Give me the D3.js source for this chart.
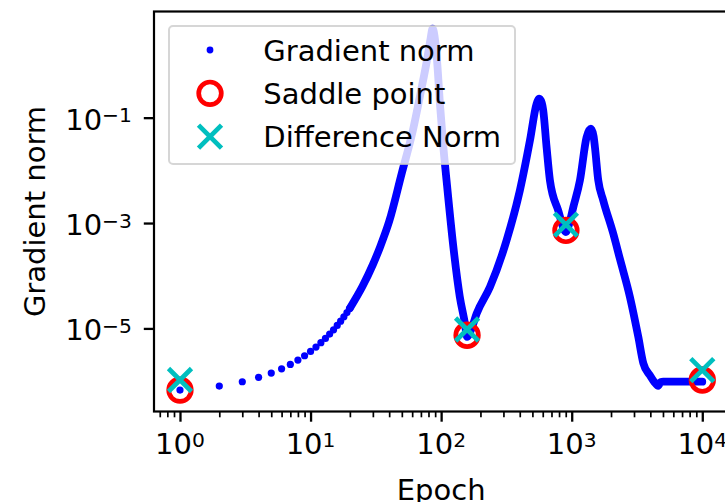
<!DOCTYPE html>
<html>
<head>
<meta charset="utf-8">
<script src="https://cdn.jsdelivr.net/npm/d3@7"></script>
<style>
  html, body { margin: 0; padding: 0; background: #fff; }
  svg { display: block; font-family: "DejaVu Sans", sans-serif; }
</style>
</head>
<body>
<svg id="chart" width="725" height="502"></svg>
<script>
// ---- data ----
// individually visible early dots (epoch, gradient norm)
const dotEpochs = [1, 2, 3, 4, 5, 6, 7, 8, 9, 10, 11, 12, 13, 14, 15, 16, 17, 18, 19, 20];
const dotValues = [6.76e-7, 8.05e-7, 9.73e-7, 1.18e-6, 1.42e-6, 1.71e-6, 2.07e-6, 2.51e-6, 3.03e-6, 3.66e-6,
                   4.43e-6, 5.35e-6, 6.46e-6, 7.80e-6, 9.42e-6, 1.14e-5, 1.37e-5, 1.66e-5, 2.00e-5, 2.42e-5];
// dense part of the gradient-norm trace (dots merge into a thick band)
const curveEpochs = [20, 25, 30, 34, 40, 50, 60, 70, 78, 83, 86, 89, 93, 98, 104, 110, 124, 139, 152, 158,
                     170, 187, 237, 317, 401, 479, 538, 564, 590, 605, 642, 681, 788, 903,
                     960, 1028, 1156, 1300, 1403, 1470, 1506, 1597, 1744, 2080, 2339, 2790, 3235, 3535,
                     3970, 4300, 4600, 4800, 5020, 10000];
const curveLog10 = [-4.616, -4.20, -3.79, -3.46, -2.97, -2.05, -1.30, -0.50, 0.10, 0.50, 0.69, 0.55, 0.09, -0.75, -1.56, -2.19, -3.45, -4.40, -4.90, -5.16,
                    -5.02, -4.72, -4.21, -3.33, -2.38, -1.43, -0.74, -0.64, -0.72, -0.86, -1.56, -2.19, -2.76, -3.17,
                    -3.00, -2.70, -2.19, -1.37, -1.21, -1.35, -1.56, -2.19, -2.57, -3.20, -3.68, -4.40, -5.16, -5.66,
                    -5.89, -6.02, -6.09, -6.02, -6.01, -6.01];
const saddleEpochs = [1, 158, 903, 10000];
const saddleValues = [6.76e-7, 7.41e-6, 7.24e-4, 1.05e-6];
const diffEpochs = [1, 158, 903, 10000];
const diffValues = [1.05e-6, 9.55e-6, 9.33e-4, 1.62e-6];
const xMajorTicks = [1, 10, 100, 1000, 10000];
const xMajorExp = ["0", "1", "2", "3", "4"];
const yMajorTicks = [1e-1, 1e-3, 1e-5];
const yMajorExp = ["\u22121", "\u22123", "\u22125"];
const legendLabels = ["Gradient norm", "Saddle point", "Difference Norm"];
const xLabel = "Epoch";
const yLabel = "Gradient norm";

// ---- layout ----
const L = 154, R = 728.4, T = 11.5, B = 411.5;
const FS = 29, SUP = 20.3;
const BLUE = "#0000ff", RED = "#ff0000", CYAN = "#00bfbf";

const svg = d3.select("#chart");
const x = d3.scaleLog().domain([Math.pow(10, -0.199), Math.pow(10, 4.2)]).range([L, R]);
const y = d3.scaleLog().domain([Math.pow(10, -6.577), Math.pow(10, 1.015)]).range([B, T]);

// clip
svg.append("defs").append("clipPath").attr("id", "clip")
  .append("rect").attr("x", L).attr("y", T).attr("width", R - L).attr("height", B - T);

const plot = svg.append("g").attr("clip-path", "url(#clip)");

// gradient norm: dense band
const curvePts = curveEpochs.map((e, i) => [e, Math.pow(10, curveLog10[i])]);
const line = d3.line().x(d => x(d[0])).y(d => y(d[1])).curve(d3.curveMonotoneX);
plot.append("path").datum(curvePts)
  .attr("d", line).attr("fill", "none").attr("stroke", BLUE)
  .attr("stroke-width", 7.8).attr("stroke-linejoin", "round").attr("stroke-linecap", "round");
// early separate dots
plot.selectAll("circle.dot").data(dotEpochs.map((e, i) => [e, dotValues[i]]))
  .enter().append("circle").attr("class", "dot")
  .attr("cx", d => x(d[0])).attr("cy", d => y(d[1])).attr("r", 3.6).attr("fill", BLUE);

// saddle points
plot.selectAll("circle.saddle").data(saddleEpochs.map((e, i) => [e, saddleValues[i]]))
  .enter().append("circle").attr("class", "saddle")
  .attr("cx", d => x(d[0])).attr("cy", d => y(d[1])).attr("r", 11.3)
  .attr("fill", "none").attr("stroke", RED).attr("stroke-width", 4.7);

// difference norm crosses
const A = 11.5;
const crossPath = `M${-A},${-A}L${A},${A}M${-A},${A}L${A},${-A}`;
plot.selectAll("path.diff").data(diffEpochs.map((e, i) => [e, diffValues[i]]))
  .enter().append("path").attr("class", "diff")
  .attr("transform", d => `translate(${x(d[0])},${y(d[1])})`)
  .attr("d", crossPath).attr("fill", "none").attr("stroke", CYAN).attr("stroke-width", 4.7);

// axes: x major
const xAxis = svg.append("g").attr("transform", `translate(0,${B})`)
  .call(d3.axisBottom(x).tickValues(xMajorTicks).tickSize(10.2).tickFormat(""));
// x minor
const xMinor = [];
for (let p = -1; p <= 4; p++) for (let m = 2; m <= 9; m++) {
  const v = m * Math.pow(10, p);
  if (v >= x.domain()[0] && v <= x.domain()[1]) xMinor.push(v);
}
svg.append("g").attr("transform", `translate(0,${B})`)
  .call(d3.axisBottom(x).tickValues(xMinor).tickSize(5.8).tickFormat(""))
  .call(g => g.selectAll(".tick line").attr("stroke-width", 1.7));
const yAxis = svg.append("g").attr("transform", `translate(${L},0)`)
  .call(d3.axisLeft(y).tickValues(yMajorTicks).tickSize(10.2).tickFormat(""));
svg.selectAll(".domain").remove();
xAxis.selectAll(".tick line").attr("stroke-width", 2.3).attr("stroke", "#000");
yAxis.selectAll(".tick line").attr("stroke-width", 2.3).attr("stroke", "#000");

// tick labels with superscripts
xMajorTicks.forEach((v, i) => {
  const t = svg.append("text").attr("x", x(v)).attr("y", 454)
    .attr("text-anchor", "middle").attr("font-size", FS).attr("fill", "#000");
  t.append("tspan").text("10");
  t.append("tspan").attr("font-size", SUP).attr("dy", -7.3).text(xMajorExp[i]);
});
yMajorTicks.forEach((v, i) => {
  const t = svg.append("text").attr("x", 132).attr("y", y(v) + 12)
    .attr("text-anchor", "end").attr("font-size", FS).attr("fill", "#000");
  t.append("tspan").text("10");
  t.append("tspan").attr("font-size", SUP).attr("dy", -7.3).text(yMajorExp[i]);
});

// spines
svg.append("rect").attr("x", L).attr("y", T).attr("width", R - L).attr("height", B - T)
  .attr("fill", "none").attr("stroke", "#000").attr("stroke-width", 2.2);

// axis labels
svg.append("text").attr("x", (L + R) / 2).attr("y", 499.5).attr("text-anchor", "middle")
  .attr("font-size", FS).attr("fill", "#000").text(xLabel);
svg.append("text").attr("transform", `translate(45,${(T + B) / 2}) rotate(-90)`)
  .attr("text-anchor", "middle").attr("font-size", FS).attr("fill", "#000").text(yLabel);

// legend
const lg = svg.append("g");
lg.append("rect").attr("x", 169).attr("y", 26).attr("width", 346).attr("height", 138).attr("rx", 4)
  .attr("fill", "#fff").attr("fill-opacity", 0.8)
  .attr("stroke", "#cccccc").attr("stroke-opacity", 0.8).attr("stroke-width", 2);
const rowsY = [50, 93.3, 136.7];
lg.append("circle").attr("cx", 210).attr("cy", rowsY[0]).attr("r", 3.4).attr("fill", BLUE);
lg.append("circle").attr("cx", 210).attr("cy", rowsY[1]).attr("r", 11.3)
  .attr("fill", "none").attr("stroke", RED).attr("stroke-width", 4.7);
lg.append("path").attr("transform", `translate(210,${rowsY[2]})`).attr("d", crossPath)
  .attr("fill", "none").attr("stroke", CYAN).attr("stroke-width", 4.7);
legendLabels.forEach((s, i) => {
  lg.append("text").attr("x", 263.3).attr("y", rowsY[i] + 10.5)
    .attr("font-size", FS).attr("fill", "#000").text(s);
});
</script>
</body>
</html>
